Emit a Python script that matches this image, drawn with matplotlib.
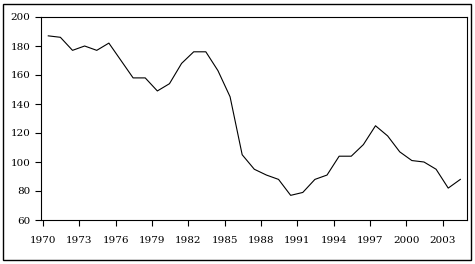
import numpy as np
import matplotlib.pyplot as plt
from matplotlib.patches import Rectangle

years = np.arange(1970, 2005)
values = [187, 186, 177, 180, 177, 182, 170, 158, 158, 149,
          154, 168, 176, 176, 163, 145, 105, 95, 91, 88,
          77, 79, 88, 91, 104, 104, 112, 125, 118, 107,
          101, 100, 95, 82, 88]
xticks = np.arange(1970, 2004, 3)
yticks = np.arange(60, 201, 20)

plt.rcParams['font.family'] = 'DejaVu Serif'

fig = plt.figure(figsize=(4.75, 2.64), dpi=100)
fig.patches.append(Rectangle((3/475, 4/264), 468/475, 256/264, transform=fig.transFigure,
                             fill=False, edgecolor='black', linewidth=1))
ax = fig.add_axes([41/475, 44/264, 426/475, 203/264])

# points sit in the middle of each year slot
ax.plot(years + 0.45, values, color='black', linewidth=0.8)

ax.set_xlim(1969.85, 2005.0)
ax.set_ylim(60, 200)
ax.set_xticks(xticks)
ax.set_yticks(yticks)
ax.tick_params(axis='x', length=4.5, width=0.8, pad=7, labelsize=7.5)
ax.tick_params(axis='y', length=4.5, width=0.8, pad=3, labelsize=7.5)
for s in ax.spines.values():
    s.set_linewidth(0.8)

fig.savefig('out.png', dpi=100)
